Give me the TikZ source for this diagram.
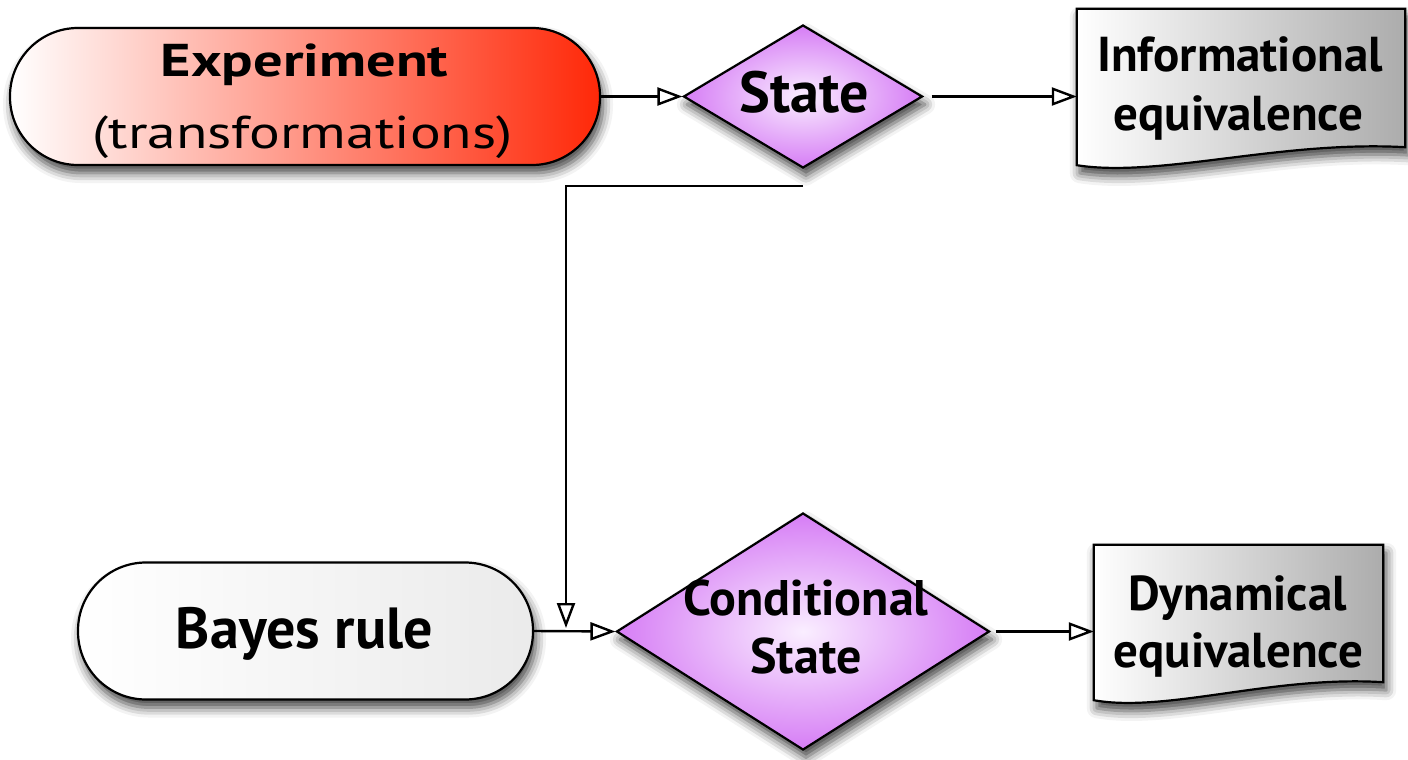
\documentclass[tikz,border=0pt]{standalone}
\usepackage{fontspec}
\setmainfont{PT Sans}
\usetikzlibrary{shapes.geometric,shadows.blur,arrows.meta,calc,backgrounds}

\definecolor{paper}{RGB}{229,236,243}
\definecolor{expred}{RGB}{255,40,8}
\definecolor{violetout}{RGB}{214,125,245}
\definecolor{violetin}{RGB}{250,238,255}
\definecolor{docgray}{RGB}{172,172,172}

\tikzset{
  softshadow/.style={blur shadow={shadow xshift=3pt, shadow yshift=-8pt,
      shadow blur radius=10pt, shadow opacity=75}},
  terminal/.style={rectangle, rounded corners=68pt, draw=black, line width=2.2pt,
      minimum height=137pt, inner sep=0pt, softshadow},
  decision/.style={diamond, draw=black, line width=2.2pt, inner sep=0pt,
      shading=radial, inner color=violetin, outer color=violetout, softshadow},
  docbox/.style={rectangle, inner sep=0pt},
  docfill/.style={draw=black, line width=2.2pt, left color=white,
      right color=docgray, softshadow},
  lbl/.style={anchor=base, inner sep=0pt},
  conn/.style={line width=2.4pt, -{Triangle[open, length=25pt, width=18pt]}},
}

% document shape drawn round a named box node
\newcommand\docpath[1]{%
  \path[docfill] (#1.north west) -- (#1.north east)
    -- ($(#1.south east)+(0,18)$)
    .. controls ($(#1.south west)!0.62!(#1.south east)+(0,25)$)
    and ($(#1.south west)!0.25!(#1.south east)+(0,-13)$) .. (#1.south west)
    -- cycle;}

\begin{document}
\begin{tikzpicture}[x=1pt,y=1pt]
\begin{pgfonlayer}{background}
  \fill[paper] (0,0) rectangle (1408,-760);
\end{pgfonlayer}
\useasboundingbox (0,0) rectangle (1408,-760);
% priming shadow, placed off the page
\path[softshadow, fill=paper] (-300,300) rectangle (-299,299);

% top row
\node[terminal, minimum width=590pt, left color=white, right color=expred]
  (exp) at (305,-96.5) {};
\node[lbl, font=\bfseries\fontsize{46}{50}\selectfont\addfontfeature{FakeStretch=1.27}]
  (exp1) at (304.5,-77) {Experiment};
\node[lbl, font=\fontsize{46}{50}\selectfont\addfontfeature{FakeStretch=1.25}]
  (exp2) at (302.5,-148) {(transformations)};

\node[decision, minimum width=239pt, minimum height=143pt] (state) at (803,-96.5) {};
\node[lbl, font=\bfseries\fontsize{58}{60}\selectfont] (statetext) at (804,-112) {State};

\node[docbox, minimum width=328pt, minimum height=156pt] (info) at (1241,-87) {};
\node[lbl, font=\bfseries\fontsize{49}{52}\selectfont] (info1) at (1240,-72) {Informational};
\node[lbl, font=\bfseries\fontsize{49}{52}\selectfont] (info2) at (1238.5,-130) {equivalence};

% bottom row
\node[terminal, minimum width=455pt, left color=white, right color=black!8]
  (bayes) at (305.5,-631) {};
\node[lbl, font=\bfseries\fontsize{58}{60}\selectfont] (bayestext) at (304.5,-648) {Bayes rule};

\node[decision, minimum width=373pt, minimum height=237pt] (cs) at (803,-631.5) {};
\node[lbl, font=\bfseries\fontsize{50}{52}\selectfont] (cs1) at (806,-615) {Conditional};
\node[lbl, font=\bfseries\fontsize{50}{52}\selectfont] (cs2) at (806,-673) {State};

\node[docbox, minimum width=289pt, minimum height=155pt] (dyn) at (1238.5,-622.5) {};
\node[lbl, font=\bfseries\fontsize{49}{52}\selectfont] (dyn1) at (1237.5,-610) {Dynamical};
\node[lbl, font=\bfseries\fontsize{49}{52}\selectfont] (dyn2) at (1238.5,-667) {equivalence};

\begin{pgfonlayer}{background}
  \docpath{info}
  \docpath{dyn}
\end{pgfonlayer}

% connectors
\coordinate (tap) at ($(state.south)+(0,-17)$);
\coordinate (join) at (566,-628);
\draw[conn] (exp.east) -- (state.west);
\draw[conn, shorten <=8pt] (state.east) -- (state.east -| info.west);
\draw[conn] (bayes.east) -- (cs.west);
\draw[conn, shorten <=5pt] (cs.east) -- (cs.east -| dyn.west);
\draw[conn] (tap) -| (join);
\end{tikzpicture}
\end{document}
